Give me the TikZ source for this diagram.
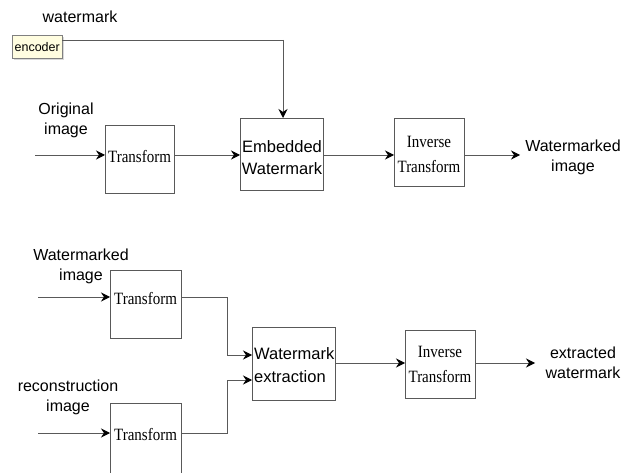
\documentclass[tikz,border=0pt]{standalone}
\usepackage{fontspec}
\setmainfont{Liberation Serif}
\setsansfont{Liberation Sans}
\usetikzlibrary{arrows.meta,shadows}
\begin{document}
\begin{tikzpicture}[x=1pt,y=-1pt,
  box/.style={draw=black!65,line width=0.9pt,inner sep=0pt,anchor=north west},
  lbl/.style={font=\sffamily\fontsize{16}{20}\selectfont,align=center,inner sep=0pt},
  serif/.style={font=\rmfamily\fontsize{15}{17}\selectfont,align=center,inner sep=0pt},
  conn/.style={draw=black!65,line width=0.9pt,-{Stealth[length=9pt,width=9pt,inset=3pt,black]}},
  line/.style={draw=black!65,line width=0.9pt}]
\useasboundingbox (0,0) rectangle (635,473);
% top row
\node[lbl] (wmlabel) at (80,17) {watermark};
\node[draw=black!50,fill=yellow!12,drop shadow={shadow xshift=1.5pt,shadow yshift=-1.5pt,opacity=0.3},
  minimum width=50pt,minimum height=23pt,inner sep=0pt,anchor=north west,
  font=\sffamily\fontsize{12.5}{13}\selectfont] (enc) at (12,35) {encoder};
\node[lbl] (orig) at (66,120) {Original\\image};
\coordinate (in1) at (35,155);
\node[box,minimum width=69pt,minimum height=68pt] (t1) at (105,125) {};
\node[serif,anchor=west] at (108,157) {\scalebox{1}[1.15]{Transform}};
\node[box,minimum width=83pt,minimum height=72pt] (emb) at (240,118) {};
\node[lbl,font=\sffamily\fontsize{16.5}{22}\selectfont] at (282,158) {Embedded\\Watermark};
\node[box,minimum width=70pt,minimum height=68pt] (it1) at (394,118) {};
\node[serif,font=\rmfamily\fontsize{15}{25}\selectfont] at (429,154) {\scalebox{1}[1.15]{Inverse}\\\scalebox{1}[1.15]{Transform}};
\node[lbl] (wmimg) at (573,157) {Watermarked\\image};
\coordinate (out1) at (520,155);

\draw[line] (enc.east |- 0,40) -- (283,40) coordinate (c1);
\draw[conn] (c1) -- (c1 |- emb.north);
\draw[conn] (in1) -- (t1.west |- in1);
\draw[conn] (t1.east |- in1) -- (emb.west |- in1);
\draw[conn] (emb.east |- in1) -- (it1.west |- in1);
\draw[conn] (it1.east |- in1) -- (out1);

% bottom
\node[lbl] (wm2) at (81,266) {Watermarked\\image};
\coordinate (in2) at (38,297);
\node[box,minimum width=71pt,minimum height=68pt] (t2) at (110,270) {};
\node[serif,anchor=west] at (114,299) {\scalebox{1}[1.15]{Transform}};
\node[lbl] (rec) at (68,397) {reconstruction\\image};
\coordinate (in3) at (38,433);
\node[box,minimum width=71pt,minimum height=80pt] (t3) at (110,403) {};
\node[serif,anchor=west] at (114,435) {\scalebox{1}[1.15]{Transform}};
\node[box,minimum width=83pt,minimum height=73pt] (ext) at (252,327) {};
\node[lbl,font=\sffamily\fontsize{16.5}{23}\selectfont,align=left,anchor=west] at (254,365) {Watermark\\extraction};
\node[box,minimum width=70pt,minimum height=68pt] (it2) at (405,330) {};
\node[serif,font=\rmfamily\fontsize{15}{25}\selectfont] at (440,364) {\scalebox{1}[1.15]{Inverse}\\\scalebox{1}[1.15]{Transform}};
\node[lbl] (exw) at (583,363) {extracted\\watermark};
\coordinate (out2) at (535,363);

\draw[conn] (in2) -- (t2.west |- in2);
\draw[conn] (in3) -- (t3.west |- in3);
\draw[conn] (t2.east |- in2) -- (227,297) -- (227,355) -- (ext.west |- 0,355);
\draw[conn] (t3.east |- in3) -- (227,433) -- (227,380) -- (ext.west |- 0,380);
\draw[conn] (ext.east |- 0,363) -- (it2.west |- 0,363);
\draw[conn] (it2.east |- 0,363) -- (out2);
\end{tikzpicture}
\end{document}
